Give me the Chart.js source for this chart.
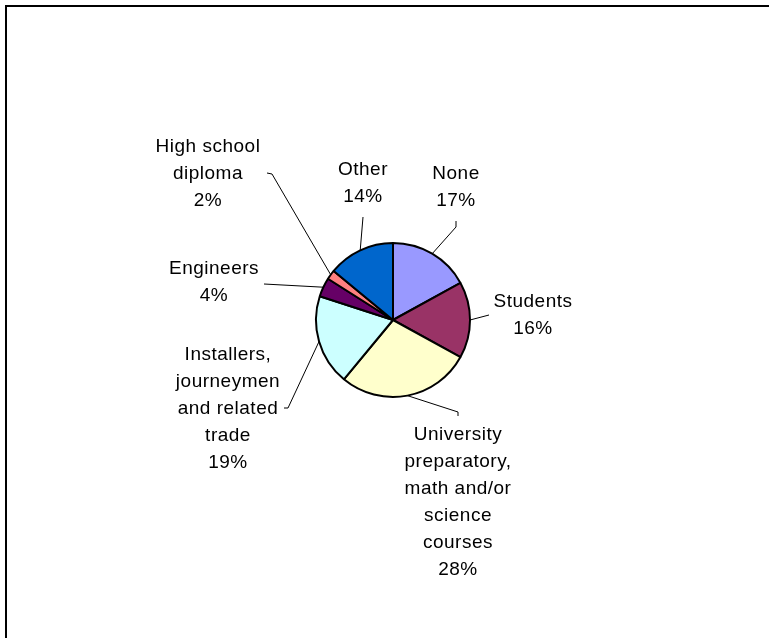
<!DOCTYPE html>
<html>
<head>
<meta charset="utf-8">
<script src="https://cdn.jsdelivr.net/npm/chart.js@4/dist/chart.umd.min.js"></script>
<style>
  html, body { margin: 0; padding: 0; background: #fff; }
  #wrap { width: 769px; height: 638px; position: relative; }
</style>
</head>
<body>
<div id="wrap"><canvas id="pie" width="769" height="638"></canvas></div>
<script>
// qualification categories, clockwise from 12 o'clock
const categories = [
    ['None'],
    ['Students'],
    ['University', 'preparatory,', 'math and/or', 'science', 'courses'],
    ['Installers,', 'journeymen', 'and related', 'trade'],
    ['Engineers'],
    ['High school', 'diploma'],
    ['Other']
];
const shares = [17, 16, 28, 19, 4, 2, 14];
const sliceColors = ['#9999FF', '#993366', '#FFFFCC', '#CCFFFF', '#660066', '#FF8080', '#0066CC'];

// label placement relative to the pie centre: text centre x, first line y,
// and the bend points of the leader line (the last point sits on the slice)
const labelLayout = [
    { x: 63,   y: -146, bends: [[63, -99], [63, -93]] },
    { x: 140,  y: -18,  bends: [[96, -5]] },
    { x: 65,   y: 115,  bends: [[65, 96], [65, 92]] },
    { x: -165, y: 35,   bends: [[-109, 88], [-105, 88]] },
    { x: -179, y: -51,  bends: [[-129, -36]] },
    { x: -185, y: -173, bends: [[-126, -147], [-121, -146]] },
    { x: -30,  y: -150, bends: [[-30, -103]] }
];

const lineHeight = 27;

const calloutPlugin = {
    id: 'callouts',
    afterDatasetsDraw(chart) {
        const ctx = chart.ctx;
        const arcs = chart.getDatasetMeta(0).data;
        ctx.save();
        ctx.strokeStyle = '#000';
        ctx.lineWidth = 1;
        arcs.forEach((arc, i) => {
            const p = arc.getProps(['x', 'y', 'startAngle', 'endAngle', 'outerRadius'], true);
            const mid = (p.startAngle + p.endAngle) / 2;
            const ex = p.x + Math.cos(mid) * p.outerRadius;
            const ey = p.y + Math.sin(mid) * p.outerRadius;
            const lay = labelLayout[i];
            ctx.beginPath();
            lay.bends.forEach((b, k) => {
                if (k === 0) ctx.moveTo(p.x + b[0], p.y + b[1]);
                else ctx.lineTo(p.x + b[0], p.y + b[1]);
            });
            ctx.lineTo(ex, ey);
            ctx.stroke();

            const lines = categories[i].concat([shares[i] + '%']);
            ctx.fillStyle = '#000';
            ctx.font = '19px "Liberation Sans", Arial, sans-serif';
            if ('letterSpacing' in ctx) ctx.letterSpacing = '0.5px';
            ctx.textAlign = 'center';
            ctx.textBaseline = 'middle';
            lines.forEach((t, k) => {
                ctx.fillText(t, p.x + lay.x, p.y + lay.y + k * lineHeight);
            });
        });
        ctx.restore();
    },
    afterDraw(chart) {
        // chart frame, only its top and left edges fall inside the canvas
        const ctx = chart.ctx;
        ctx.save();
        ctx.strokeStyle = '#000';
        ctx.lineWidth = 2;
        ctx.strokeRect(6, 6, 900, 800);
        ctx.restore();
    }
};

new Chart(document.getElementById('pie').getContext('2d'), {
    type: 'pie',
    data: {
        labels: categories.map(c => c.join(' ')),
        datasets: [{
            data: shares,
            backgroundColor: sliceColors,
            borderColor: '#000',
            borderWidth: 2,
            radius: 77
        }]
    },
    options: {
        responsive: false,
        animation: false,
        layout: { padding: { left: 17, right: 0, top: 2, bottom: 0 } },
        plugins: {
            legend: { display: false },
            tooltip: { enabled: false }
        }
    },
    plugins: [calloutPlugin]
});
</script>
</body>
</html>
